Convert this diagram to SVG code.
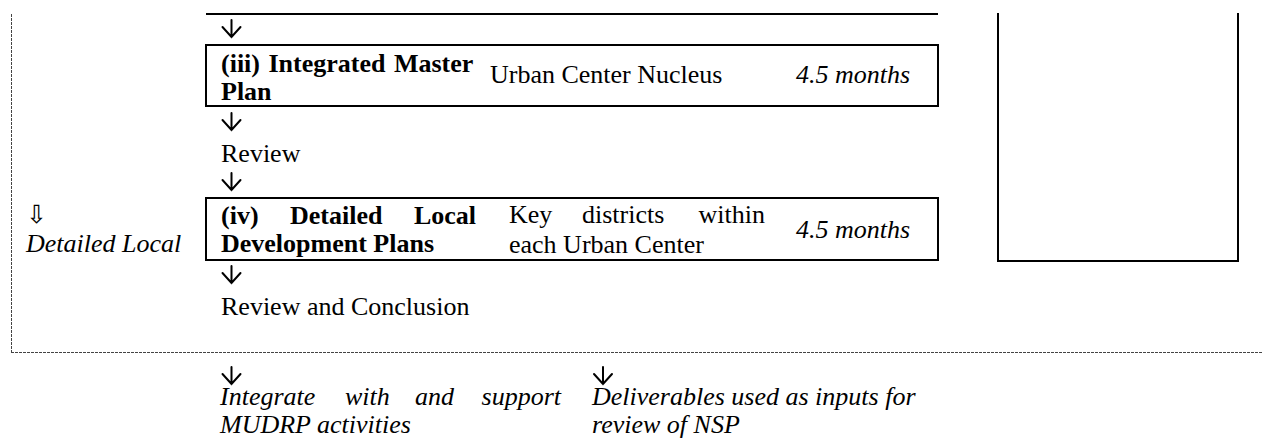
<svg xmlns="http://www.w3.org/2000/svg" width="1262" height="440" viewBox="0 0 1262 440">
  <style>
    text { font-family: "Liberation Serif", "Times New Roman", serif; font-size: 26px; fill: #000; }
    .b { font-weight: bold; }
    .i { font-style: italic; }
    .frame { fill: none; stroke: #000; stroke-width: 2; }
    .dash { fill: none; stroke: #444; stroke-width: 1; stroke-dasharray: 3 1; }
    .arrow { fill: none; stroke: #000; stroke-width: 2; stroke-linecap: round; stroke-linejoin: miter; }
    .sym { font-family: "DejaVu Sans", sans-serif; font-size: 25px; }
  </style>
  <defs>
    <!-- small down arrow, tip at origin -->
    <path id="down" d="M0,-17 V0 M-9,-10 L0,0 L9,-10"/>
  </defs>

  <!-- dashed enclosure: left edge and bottom edge -->
  <g id="enclosure">
    <line class="dash" x1="11.5" y1="14" x2="11.5" y2="352"/>
    <line class="dash" x1="11" y1="352.5" x2="1262" y2="352.5"/>
  </g>

  <!-- bottom of the stage above -->
  <g id="prev-stage">
    <line class="frame" x1="206" y1="14" x2="938" y2="14"/>
  </g>

  <!-- open box on the right -->
  <g id="side-box">
    <path class="frame" d="M998,13 V261 H1238 V13"/>
  </g>

  <g id="step-iii">
    <rect class="frame" x="206" y="45" width="732" height="61"/>
    <text class="b" x="221" y="72" word-spacing="2">(iii) Integrated Master</text>
    <text class="b" x="221" y="100">Plan</text>
    <text x="490" y="83">Urban Center Nucleus</text>
    <text class="i" x="796" y="83">4.5 months</text>
  </g>

  <g id="review">
    <text x="221" y="162">Review</text>
  </g>

  <g id="step-iv">
    <rect class="frame" x="206" y="198" width="732" height="62"/>
    <text class="b" y="224"><tspan x="221">(iv)</tspan><tspan x="290">Detailed</tspan><tspan x="476" text-anchor="end">Local</tspan></text>
    <text class="b" x="221" y="252">Development Plans</text>
    <text y="223"><tspan x="509">Key</tspan><tspan x="582">districts</tspan><tspan x="765" text-anchor="end">within</tspan></text>
    <text x="509" y="253">each Urban Center</text>
    <text class="i" x="796" y="238">4.5 months</text>
  </g>

  <g id="stage-label">
    <text class="sym" x="26" y="223">⇩</text>
    <text class="i" x="26" y="252">Detailed Local</text>
  </g>

  <g id="conclusion">
    <text x="221" y="315">Review and Conclusion</text>
  </g>

  <g id="outcome-mudrp">
    <text class="i" y="405"><tspan x="220">Integrate</tspan><tspan x="345">with</tspan><tspan x="415">and</tspan><tspan x="561" text-anchor="end">support</tspan></text>
    <text class="i" x="220" y="433">MUDRP activities</text>
  </g>

  <g id="outcome-nsp">
    <text class="i" x="592" y="405">Deliverables used as inputs for</text>
    <text class="i" x="592" y="433">review of NSP</text>
  </g>

  <g id="connectors" class="arrow">
    <use href="#down" x="231.5" y="37"/>
    <use href="#down" x="231.5" y="130"/>
    <use href="#down" x="231.5" y="190"/>
    <use href="#down" x="231.5" y="283"/>
    <use href="#down" x="231.5" y="384"/>
    <use href="#down" x="603" y="384"/>
  </g>
</svg>
